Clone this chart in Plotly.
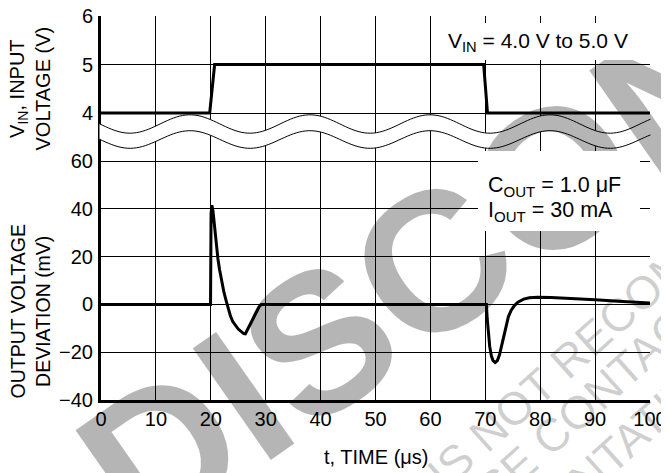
import numpy as np
import plotly.graph_objects as go

# ---------------- data ----------------
vin_t = [0, 19.8, 20.7, 69.7, 70.4, 100]
vin_v = [4, 4, 5, 5, 4, 4]

dev_t = [0, 19.95, 20.05, 20.2, 20.4, 20.6, 20.8, 21.0, 21.3, 21.6, 22.0, 22.4, 22.8, 23.2,
         23.6, 24.0, 24.5, 25.0, 25.5, 26.0, 26.3, 27.0, 28.0, 28.8, 29.2, 50.0,
         70.2, 70.35, 70.55, 70.8, 71.1, 71.4, 71.8, 72.2, 72.6, 73.0, 73.4, 73.8, 74.2,
         74.7, 75.3, 76.0, 77.0, 78.0, 79.5, 82.0, 85.0, 90.0, 95.0, 100.0]
dev_mv = [0, 0, 38, 41.5, 39, 34, 29, 24.5, 19, 14.5, 9.5, 5, 1.5, -2,
          -5, -7.2, -9, -10.3, -11.3, -12.2, -12.3, -9.2, -4.8, -1, 0, 0,
          0, -6, -12, -17.5, -21.5, -23.5, -24.3, -23.5, -21, -17, -12.5, -8.5, -5.2,
          -2.5, -0.5, 1.0, 2.2, 2.8, 3.0, 2.9, 2.6, 1.9, 1.2, 0.6]

x_ticks = [0, 10, 20, 30, 40, 50, 60, 70, 80, 90, 100]
vin_ticks = [4, 5, 6]
dev_ticks = [-40, -20, 0, 20, 40, 60]
dev_ticktext = ["\u221240", "\u221220", "0", "20", "40", "60"]

# ---------------- geometry (screen pixels of the 669x473 view) ----------------
OFF = 8                               # page body margin
SW, SH = 669, 473
SL, SR, ST, SB = 101, 650, 16, 400
PW, PH = SR - SL, SB - ST
SPLIT = 132
d_split = (SB - SPLIT) / PH
PX_PER_V = 48.5
PX_PER_MV = 2.39
vin_range = [6 - (SPLIT - ST) / PX_PER_V, 6]
dev_range = [-40, -40 + (SB - SPLIT) / PX_PER_MV]


def px(sx):
    return (sx - SL) / PW


def py(sy):
    return (SB - sy) / PH


FONT = "Liberation Sans, Arial, Helvetica, sans-serif"
fig = go.Figure()

fig.add_trace(go.Scatter(x=vin_t, y=vin_v, mode="lines", xaxis="x", yaxis="y",
                         line=dict(color="black", width=3), hoverinfo="skip"))
fig.add_trace(go.Scatter(x=dev_t, y=dev_mv, mode="lines", xaxis="x", yaxis="y2",
                         line=dict(color="black", width=3), hoverinfo="skip"))

axis_common = dict(showgrid=True, gridcolor="black", gridwidth=1, zeroline=False,
                   ticks="", automargin=False, showline=True, linecolor="black",
                   linewidth=3, ticklabeloverflow="allow",
                   tickfont=dict(family=FONT, size=20, color="black"))

fig.update_layout(
    width=SW - OFF, height=SH - OFF,
    margin=dict(l=SL - OFF, r=SW - SR, t=ST - OFF, b=SH - SB, autoexpand=False),
    paper_bgcolor="white", plot_bgcolor="white",
    showlegend=False,
    xaxis=dict(range=[0, 100], domain=[0, 1], anchor="y2", tickvals=x_ticks,
               ticklabelstandoff=-1, **axis_common),
    yaxis=dict(range=vin_range, domain=[d_split, 1], anchor="x", tickvals=vin_ticks,
               ticklabelstandoff=1, **axis_common),
    yaxis2=dict(range=dev_range, domain=[0, d_split], anchor="x", tickvals=dev_ticks,
                ticktext=dev_ticktext, ticklabelstandoff=1, **axis_common),
)

shapes = []
# axis break (wavy band)
xs = np.linspace(SL - 1.5, SR + 0.5, 180)
ph = 2 * np.pi * (xs - 190) / 120.0
top = 124 - 9.2 * np.cos(ph)
bot = 139.5 - 8.8 * np.cos(ph)


def path_of(xa, ya):
    return "M " + " L ".join(f"{px(a):.5f},{py(b):.5f}" for a, b in zip(xa, ya))


band = path_of(np.concatenate([xs, xs[::-1]]), np.concatenate([top, bot[::-1]])) + " Z"
shapes.append(dict(type="path", xref="paper", yref="paper", path=band,
                   fillcolor="white", line=dict(width=0), layer="above"))
shapes.append(dict(type="path", xref="paper", yref="paper", path=path_of(xs, top),
                   line=dict(color="black", width=1), layer="above"))
shapes.append(dict(type="path", xref="paper", yref="paper", path=path_of(xs, bot),
                   line=dict(color="black", width=1), layer="above"))
fig.update_layout(shapes=shapes)

ann = []
# watermark (drawn first so the label boxes sit on top of it)
WM_BIG = "rgba(0,0,0,0.29)"
WM_SMALL = "rgba(0,0,0,0.19)"
ann.append(dict(text="<b>DISCONTINUED</b>", x=px(720), y=py(61), textangle=-35,
                font=dict(family=FONT, size=198, color=WM_BIG)))
ann.append(dict(text="IS NOT RECOMMENDED FOR NEW DESIGNS", x=px(801), y=py(150),
                textangle=-42, font=dict(family=FONT, size=46, color=WM_SMALL)))
ann.append(dict(text="PLEASE CONTACT YOUR ON SEMICONDUCTOR", x=px(791), y=py(220),
                textangle=-42, font=dict(family=FONT, size=46, color=WM_SMALL)))
ann.append(dict(text="REPRESENTATIVE FOR INFORMATION", x=px(728), y=py(350),
                textangle=-42, font=dict(family=FONT, size=46, color=WM_SMALL)))

# white boxes behind the condition labels
ann.append(dict(text="\u00a0", x=px(432), y=py(23), xanchor="left", yanchor="top",
                width=217, height=37, bgcolor="white", borderpad=0, borderwidth=0,
                font=dict(family=FONT, size=10, color="white")))
ann.append(dict(text="\u00a0", x=px(478), y=py(151), xanchor="left", yanchor="top",
                width=162, height=80, bgcolor="white", borderpad=0, borderwidth=0,
                font=dict(family=FONT, size=10, color="white")))

# axis titles
ann.append(dict(text="V<sub>IN</sub>, INPUT<br>VOLTAGE (V)", x=px(29.5), y=py(89),
                textangle=-90, font=dict(family=FONT, size=20, color="black")))
ann.append(dict(text="OUTPUT VOLTAGE<br>DEVIATION (mV)", x=px(29.5), y=py(312),
                textangle=-90, font=dict(family=FONT, size=19.5, color="black")))
ann.append(dict(text="t, TIME (\u03bcs)", x=px(376), y=py(457),
                font=dict(family=FONT, size=20, color="black")))
# condition labels
ann.append(dict(text="V<sub>IN</sub> = 4.0 V to 5.0 V", x=px(538), y=py(42),
                font=dict(family=FONT, size=21, color="black")))
ann.append(dict(text="C<sub>OUT</sub> = 1.0 \u03bcF", x=px(486), y=py(186), xanchor="left",
                font=dict(family=FONT, size=21.5, color="black")))
ann.append(dict(text="I<sub>OUT</sub> = 30 mA", x=px(486), y=py(211), xanchor="left",
                font=dict(family=FONT, size=21.5, color="black")))

for a in ann:
    a.setdefault("xanchor", "center")
    a.setdefault("yanchor", "middle")
    a.update(xref="paper", yref="paper", showarrow=False)
fig.update_layout(annotations=ann)

fig.write_html("out.html")
